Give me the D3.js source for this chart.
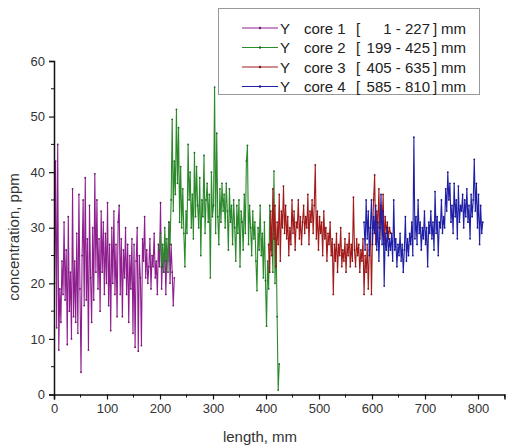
<!DOCTYPE html>
<html>
<head>
<meta charset="utf-8">
<script src="https://cdn.jsdelivr.net/npm/d3@7"></script>
<style>
  body { margin: 0; background: #fff; }
  text { font-family: "Liberation Sans", Arial, sans-serif; }
</style>
</head>
<body>
<div class="chart"></div>
<script>
// sampling: first position (mm) and step (mm) of each core
const coreNames = ["core 1", "core 2", "core 3", "core 4"];
const coreRanges = ["1 - 227", "199 - 425", "405 - 635", "585 - 810"];
const coreStart = [1, 199, 405, 585];
const coreStep = 2;
const coreColors = ["#8f1f8f", "#2b8a2b", "#a31a1a", "#1f1fa8"];

const core1 = [20, 42, 12, 45, 8, 19, 13, 24, 18, 31, 17, 26, 9, 32, 15, 22, 10, 37, 14, 24,
  13, 29, 11, 36, 19, 4, 25, 35, 16, 39, 17, 28, 8, 34, 21, 13, 30, 17, 39.7, 22,
  35, 19, 28, 15, 33, 22, 31, 18, 29, 20, 34.5, 16, 27, 11.5, 30, 20, 33, 18, 27, 14,
  31, 34, 18, 28, 14, 26, 21, 30, 18, 27, 13, 25, 19, 28, 11, 27, 8.5, 24, 30, 7.8,
  25, 21, 8.8, 28, 24, 32, 21, 26, 20, 23, 28, 19, 25, 23, 29, 21, 24, 18, 27, 23,
  34.5, 19, 25, 22, 28, 18, 26, 24, 31, 20, 27, 22, 16, 21];

const core2 = [26, 29, 23, 27, 22, 30, 24, 28, 22, 31, 27, 35, 49.5, 33, 42, 36, 51.3, 38, 48, 31,
  41, 30, 37, 29, 23, 33, 29, 45, 35, 40, 30, 36, 28, 43.5, 32, 41, 34, 30, 39, 25,
  35, 32, 43, 29, 35, 38, 31, 36, 21, 40, 32, 34, 55.3, 29, 47, 32, 27, 37, 31, 38,
  33, 36, 30, 38, 33, 26, 37, 31, 34, 27, 35, 30, 24, 34, 29, 35, 23, 33, 31, 26,
  36, 29, 42, 44.8, 27, 34, 30, 25, 33, 28, 31, 24, 18.7, 30, 26, 34, 25, 29, 21, 31,
  20.5, 12.3, 24, 19, 34, 26, 29, 22, 40.2, 20, 28, 14, 0.8, 5.5];

const core3 = [27, 22, 33, 25, 37, 28, 34, 23, 31, 27, 36, 24, 33, 30, 37.5, 29, 34, 28, 32, 25,
  30, 27, 35, 29, 33, 26, 31, 30, 35, 28, 32, 27, 31, 34, 29, 32, 30, 36, 27, 33,
  31, 35, 29, 34, 41.3, 28, 33, 26, 32, 29, 31, 25, 33, 28, 30, 24, 29, 27, 31, 25,
  28, 18, 27, 24, 29, 22, 27, 25, 30, 23, 26, 24, 28, 22, 27, 25, 29, 23, 27, 24,
  35.5, 26, 23, 28, 25, 27, 22, 26, 24, 28, 18, 25, 22, 27, 19, 26, 30, 18, 29, 35,
  39.5, 27, 33, 30, 37, 28, 34, 31, 36, 27, 32, 29, 31, 28, 30, 29];

const core4 = [31, 26, 35, 28, 33, 25, 30, 35, 27, 32, 29, 34, 26, 31, 24, 30, 36, 27, 33, 19.5,
  29, 26, 30, 25, 28, 26, 29, 24, 35, 26, 28, 23, 27, 25, 29, 24, 27, 22, 26, 32,
  24, 28, 25, 29, 27, 31, 25, 46.3, 28, 32, 27, 35, 29, 31, 26, 30, 28, 33, 27, 30,
  23, 31, 29, 33, 28, 31, 26, 36.5, 29, 32, 25, 31, 30, 35, 29, 32, 30, 37, 33, 40,
  35, 38, 31, 34, 29, 38, 32, 35, 28, 37.5, 31, 34, 33, 36, 30, 35, 32, 37, 31, 34,
  28, 36, 32, 35, 42.3, 33, 38, 30, 36, 27, 34, 29, 31];

const allCores = [core1, core2, core3, core4];
const xTicks = [0, 100, 200, 300, 400, 500, 600, 700, 800];
const yTicks = [0, 10, 20, 30, 40, 50, 60];

const svgWidth = 513, svgHeight = 448;

const svg = d3.select(".chart").append("svg")
  .attr("width", svgWidth)
  .attr("height", svgHeight);

const x = d3.scaleLinear().domain([0, 850]).range([54, 504.5]);
const y = d3.scaleLinear().domain([0, 60]).range([394.5, 61]);

const line = d3.line()
  .x(d => x(d.x))
  .y(d => y(d.v));

// series, drawn in order so later cores sit on top
allCores.forEach((vals, k) => {
  const pts = vals.map((v, i) => ({ x: coreStart[k] + i * coreStep, v: v }));
  const g = svg.append("g");
  g.append("path")
    .datum(pts)
    .attr("fill", "none")
    .attr("stroke", coreColors[k])
    .attr("stroke-width", 1.1)
    .attr("d", line);
  g.selectAll("circle")
    .data(pts)
    .enter()
    .append("circle")
    .attr("cx", d => x(d.x))
    .attr("cy", d => y(d.v))
    .attr("r", 0.9)
    .attr("fill", d3.color(coreColors[k]).darker(0.8));
});

// axes
const bottomAxis = d3.axisBottom(x).tickValues(xTicks).tickSize(5).tickPadding(4);
const leftAxis = d3.axisLeft(y).tickValues(yTicks).tickSize(5).tickPadding(4);

const xg = svg.append("g")
  .attr("transform", `translate(0, ${y(0)})`)
  .call(bottomAxis);
xg.append("g").selectAll("line")
  .data(d3.range(50, 851, 100))
  .enter().append("line")
  .attr("x1", d => x(d)).attr("x2", d => x(d))
  .attr("y1", 0).attr("y2", 3)
  .attr("stroke", "#111");

const yg = svg.append("g")
  .attr("transform", `translate(${x(0)}, 0)`)
  .call(leftAxis);
yg.append("g").selectAll("line")
  .data(d3.range(5, 60, 10))
  .enter().append("line")
  .attr("x1", 0).attr("x2", -3)
  .attr("y1", d => y(d)).attr("y2", d => y(d))
  .attr("stroke", "#111");

[xg, yg].forEach(g => {
  g.select(".domain").attr("stroke", "#111").attr("stroke-width", 1.5);
  g.selectAll(".tick line").attr("stroke", "#111").attr("stroke-width", 1.2);
  g.selectAll(".tick text")
    .attr("font-family", "Liberation Sans, Arial, sans-serif")
    .attr("font-size", 13)
    .attr("fill", "#333");
});

// axis titles
svg.append("text")
  .attr("x", 260).attr("y", 442)
  .attr("text-anchor", "middle")
  .attr("font-size", 15)
  .attr("fill", "#333")
  .text("length, mm");

svg.append("text")
  .attr("transform", "translate(19, 237) rotate(-90)")
  .attr("text-anchor", "middle")
  .attr("font-size", 15)
  .attr("fill", "#333")
  .text("concentration, ppm");

// legend
const legend = svg.append("g");
legend.append("rect")
  .attr("x", 218.5).attr("y", 8.5)
  .attr("width", 261).attr("height", 86)
  .attr("fill", "#fff")
  .attr("stroke", "#999");

const rowY = [28, 47.5, 67, 86.5];
coreNames.forEach((name, k) => {
  const row = legend.append("g").attr("transform", `translate(0, ${rowY[k]})`);
  row.append("line")
    .attr("x1", 242).attr("x2", 278)
    .attr("stroke", coreColors[k]).attr("stroke-width", 1.2);
  row.append("circle")
    .attr("cx", 260).attr("cy", 0).attr("r", 1.2)
    .attr("fill", d3.color(coreColors[k]).darker(0.8));
  const t = (tx, s, anchor) => row.append("text")
    .attr("x", tx).attr("y", 5.5)
    .attr("text-anchor", anchor || "start")
    .attr("font-size", 15)
    .attr("fill", "#222")
    .text(s);
  t(280, "Y");
  t(304, name);
  t(356, "[");
  t(430, coreRanges[k], "end");
  t(433, "]");
  t(441, "mm");
});
</script>
</body>
</html>
